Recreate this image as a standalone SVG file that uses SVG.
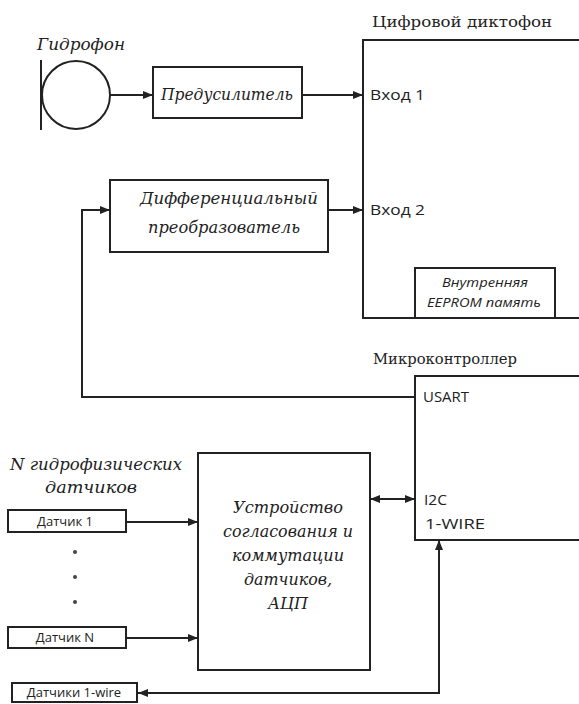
<svg xmlns="http://www.w3.org/2000/svg" width="579" height="704" viewBox="0 0 579 704">
  <style>
    .box { fill: #fff; stroke: #222; stroke-width: 2; }
    .frame { fill: none; stroke: #222; stroke-width: 2; }
    .wire { fill: none; stroke: #222; stroke-width: 2; }
    .it { font-family: "DejaVu Serif", "Liberation Serif", serif; font-style: italic; font-size: 16px; fill: #222; }
    .title { font-family: "DejaVu Serif", "Liberation Serif", serif; font-size: 15px; fill: #222; }
    .port { font-family: "Open Sans", "Liberation Sans", sans-serif; font-size: 15px; fill: #222; }
    .small { font-family: "Open Sans", "Liberation Sans", sans-serif; font-size: 13px; fill: #222; }
    .note { font-family: "Open Sans", "Liberation Sans", sans-serif; font-style: italic; font-size: 12px; fill: #222; }
  </style>
  <defs>
    <marker id="arr" viewBox="0 0 10 8" refX="10" refY="4" markerWidth="10" markerHeight="8" markerUnits="userSpaceOnUse" orient="auto-start-reverse">
      <path d="M0,0 L10,4 L0,8 Z" fill="#222"/>
    </marker>
  </defs>

  <rect width="579" height="704" fill="#fff"/>

  <!-- hydrophone -->
  <g id="hydrophone">
    <line x1="41" y1="60" x2="41" y2="130" class="wire"/>
    <circle cx="76" cy="95" r="34" class="frame"/>
    <text x="37" y="50" class="it" textLength="88" lengthAdjust="spacingAndGlyphs">Гидрофон</text>
  </g>

  <!-- preamplifier -->
  <g id="preamp">
    <rect x="153" y="67" width="149" height="51" class="box"/>
    <text x="227" y="100" class="it" text-anchor="middle" textLength="132" lengthAdjust="spacingAndGlyphs">Предусилитель</text>
  </g>

  <!-- digital recorder -->
  <g id="recorder">
    <polyline points="579,40 363,40 363,318 579,318" class="frame"/>
    <text x="372" y="27" class="title" textLength="180" lengthAdjust="spacingAndGlyphs">Цифровой диктофон</text>
    <text x="370" y="100" class="port" textLength="55" lengthAdjust="spacingAndGlyphs">Вход 1</text>
    <text x="370" y="215" class="port" textLength="55" lengthAdjust="spacingAndGlyphs">Вход 2</text>
    <rect x="415" y="268" width="140" height="50" class="box"/>
    <text x="485" y="287" class="note" text-anchor="middle" textLength="86" lengthAdjust="spacingAndGlyphs">Внутренняя</text>
    <text x="484" y="307" class="note" text-anchor="middle" textLength="114" lengthAdjust="spacingAndGlyphs">EEPROM память</text>
  </g>

  <!-- differential converter -->
  <g id="converter">
    <rect x="110" y="180" width="218" height="72" class="box"/>
    <text x="229" y="204" class="it" text-anchor="middle" textLength="178" lengthAdjust="spacingAndGlyphs">Дифференциальный</text>
    <text x="224" y="233" class="it" text-anchor="middle" textLength="152" lengthAdjust="spacingAndGlyphs">преобразователь</text>
  </g>

  <!-- microcontroller -->
  <g id="mcu">
    <polyline points="579,376 415,376 415,540 579,540" class="frame"/>
    <text x="373" y="364" class="title" textLength="144" lengthAdjust="spacingAndGlyphs">Микроконтроллер</text>
    <text x="423" y="402" class="port" textLength="46" lengthAdjust="spacingAndGlyphs">USART</text>
    <text x="424" y="505" class="port" textLength="23" lengthAdjust="spacingAndGlyphs">I2C</text>
    <text x="425" y="529" class="port" textLength="60" lengthAdjust="spacingAndGlyphs">1-WIRE</text>
  </g>

  <!-- sensor group caption -->
  <g id="sensors-caption">
    <text x="96" y="470" class="it" text-anchor="middle" textLength="172" lengthAdjust="spacingAndGlyphs">N гидрофизических</text>
    <text x="91" y="493" class="it" text-anchor="middle" textLength="92" lengthAdjust="spacingAndGlyphs">датчиков</text>
  </g>

  <g id="sensor1">
    <rect x="8" y="510" width="118" height="22" class="box"/>
    <text x="65" y="526" class="small" text-anchor="middle">Датчик 1</text>
  </g>

  <g id="sensor-dots" fill="#444">
    <circle cx="75" cy="552" r="2"/>
    <circle cx="75" cy="577" r="2"/>
    <circle cx="75" cy="602" r="2"/>
  </g>

  <g id="sensorN">
    <rect x="8" y="627" width="118" height="21" class="box"/>
    <text x="65" y="642" class="small" text-anchor="middle">Датчик N</text>
  </g>

  <g id="sensors-1wire">
    <rect x="12" y="683" width="125" height="19" class="box"/>
    <text x="74" y="697" class="small" text-anchor="middle">Датчики 1-wire</text>
  </g>

  <!-- sensor interface / ADC -->
  <g id="interface">
    <rect x="198" y="453" width="172" height="217" class="box"/>
    <text x="288" y="513" class="it" text-anchor="middle" textLength="110" lengthAdjust="spacingAndGlyphs">Устройство</text>
    <text x="288" y="537" class="it" text-anchor="middle" textLength="130" lengthAdjust="spacingAndGlyphs">согласования и</text>
    <text x="288" y="561" class="it" text-anchor="middle" textLength="112" lengthAdjust="spacingAndGlyphs">коммутации</text>
    <text x="288" y="585" class="it" text-anchor="middle" textLength="88" lengthAdjust="spacingAndGlyphs">датчиков,</text>
    <text x="288" y="609" class="it" text-anchor="middle" textLength="40" lengthAdjust="spacingAndGlyphs">АЦП</text>
  </g>

  <!-- connectors -->
  <g id="connectors">
    <line x1="110" y1="95" x2="153" y2="95" class="wire" marker-end="url(#arr)"/>
    <line x1="302" y1="95" x2="363" y2="95" class="wire" marker-end="url(#arr)"/>
    <line x1="328" y1="210" x2="363" y2="210" class="wire" marker-end="url(#arr)"/>
    <polyline points="415,397 82,397 82,210 110,210" class="wire" marker-end="url(#arr)"/>
    <line x1="126" y1="522" x2="198" y2="522" class="wire" marker-end="url(#arr)"/>
    <line x1="126" y1="638" x2="198" y2="638" class="wire" marker-end="url(#arr)"/>
    <line x1="370" y1="499" x2="415" y2="499" class="wire" marker-start="url(#arr)" marker-end="url(#arr)"/>
    <polyline points="138,693 439,693 439,540" class="wire" marker-start="url(#arr)" marker-end="url(#arr)"/>
  </g>
</svg>
